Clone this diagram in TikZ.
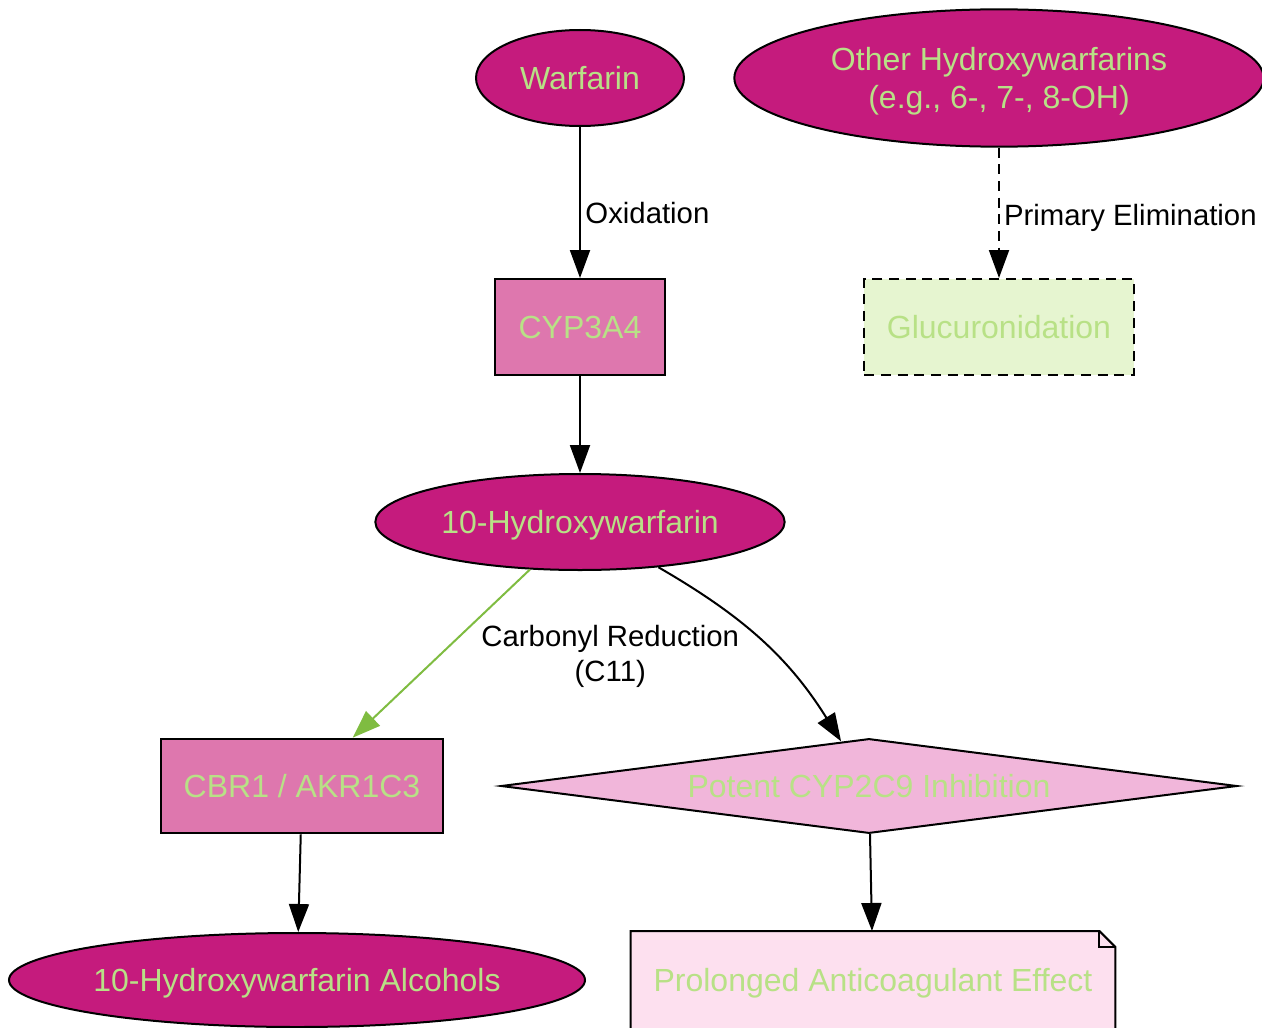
\documentclass[tikz,border=0pt]{standalone}
\usepackage{fontspec}
\setmainfont{Liberation Sans}
\usetikzlibrary{shapes.geometric,arrows.meta}
\definecolor{rosefonce}{HTML}{C51B7D}
\definecolor{rosemoyen}{HTML}{DE77AE}
\definecolor{roseclair}{HTML}{F1B6DA}
\definecolor{rosepale}{HTML}{FDE0EF}
\definecolor{vertpale}{HTML}{E6F5D0}
\definecolor{verttexte}{HTML}{B8E186}
\definecolor{vertfleche}{HTML}{7FBC41}
\begin{document}
\begin{tikzpicture}[x=0.75pt,y=-0.75pt]
\tikzset{
	base/.style={draw,line width=1.5pt,text=verttexte,inner sep=0pt,align=center,
		text height=22.6pt,text depth=5.4pt,font=\fontsize{24}{28.5}\selectfont},
	molecule/.style={base,ellipse,fill=rosefonce},
	enzyme/.style={base,rectangle,fill=rosemoyen},
	tirets/.style={dashed,dash pattern=on 7.5pt off 5pt},
	fleche/.style={line width=1.5pt,-{Triangle[length=21pt,width=15pt]}},
	etiq/.style={font=\fontsize{22}{26}\selectfont,text=black,align=center}
}
\useasboundingbox (0,0) rectangle (1262,1027);
\clip (0,0) rectangle (1262,1027);

 % les noeuds
  \node[molecule,minimum width=156pt,minimum height=72pt] (warf) at (580,78) {Warfarin};
  \node[molecule,text height=51.1pt,minimum width=397pt,minimum height=103pt] (autres) at (999,78) {Other Hydroxywarfarins\\(e.g., 6-, 7-, 8-OH)};
  \node[enzyme,minimum width=127pt,minimum height=72pt] (cyp) at (580,327) {CYP3A4};
  \node[base,rectangle,tirets,fill=vertpale,minimum width=202pt,minimum height=72pt] (gluc) at (999,327) {Glucuronidation};
  \node[molecule,minimum width=307pt,minimum height=72pt] (hydroxy) at (580,522) {10-Hydroxywarfarin};
  \node[enzyme,minimum width=212pt,minimum height=71pt] (cbr) at (302,786) {CBR1 / AKR1C3};
  \node[base,diamond,fill=roseclair,shape aspect=7.7,minimum width=552pt,minimum height=71pt] (inhib) at (869,786) {Potent CYP2C9 Inhibition};
  \node[molecule,minimum width=432pt,minimum height=70.5pt] (alcools) at (297,980) {10-Hydroxywarfarin Alcohols};
  \node[base,draw=none,rectangle,minimum width=362pt,minimum height=72pt] (effet) at (873,980) {};

  % la note (coin replie)
  \filldraw[line width=1.5pt,fill=rosepale] ([xshift=-12pt]effet.north east) -- (effet.north west) -- (effet.south west)
     -- (effet.south east) -- ([yshift=-12pt]effet.north east) -- cycle;
  \draw[line width=1.5pt] ([xshift=-12pt]effet.north east) |- ([yshift=-12pt]effet.north east);
  \node[base,draw=none] at (effet) {Prolonged Anticoagulant Effect};

% les fleches
  \draw[fleche] (warf) -- (cyp) node[etiq,right,pos=0.57] {Oxidation};
  \draw[fleche,tirets] (autres) -- (gluc) node[etiq,right,pos=0.54,inner sep=3pt] {Primary Elimination};
  \draw[fleche] (cyp) -- (hydroxy);
  \draw[fleche,draw=vertfleche,fill=vertfleche] (hydroxy) -- (cbr) node[etiq,midway,right=26pt,yshift=-2pt] {Carbonyl Reduction\\(C11)};
  \draw[fleche] (hydroxy) to[out=-30,in=122] (inhib);
  \draw[fleche] (cbr) -- (alcools);
  \draw[fleche] (inhib) -- (effet);
\end{tikzpicture}
\end{document}
